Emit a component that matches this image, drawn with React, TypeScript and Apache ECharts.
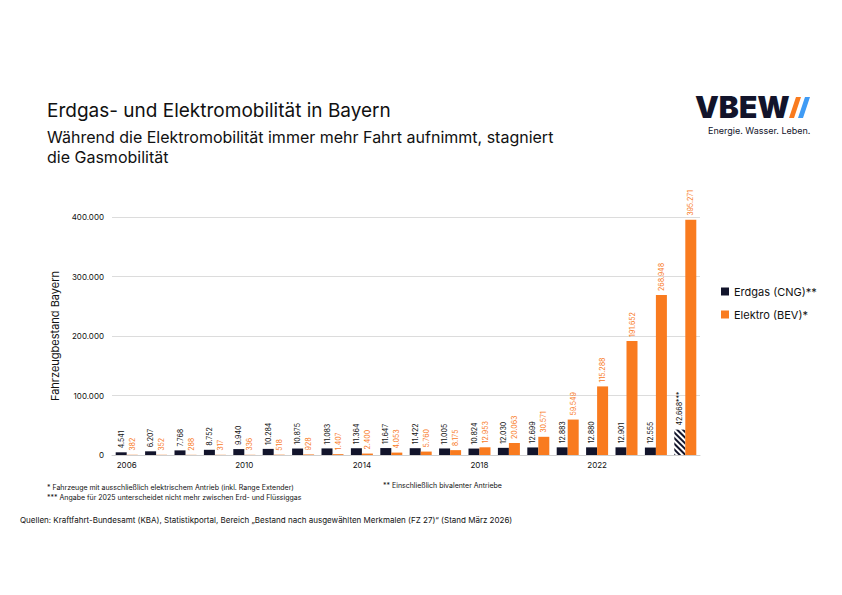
import React, { useEffect, useRef } from "react";
import * as echarts from "echarts";

const years = ["2006","2007","2008","2009","2010","2011","2012","2013","2014","2015","2016","2017","2018","2019","2020","2021","2022","2023","2024","2025"];
const erdgas = [4541,6207,7768,8752,9940,10284,10875,11083,11364,11647,11422,11005,10824,12030,12699,12883,12880,12901,12555,42668];
const elektro = [382,352,288,317,336,518,928,1407,2400,4053,5760,8175,12953,20063,30571,59549,115288,191652,268948,395271];
const yTicks = [0, 100000, 200000, 300000, 400000];

const fmt = (v: number) => String(v).replace(/\B(?=(\d{3})+(?!\d))/g, ".");
const NAVY = "#12142b";
const ORANGE = "#f97b1f";
const FONT = "Inter, 'Noto Sans', sans-serif";

export default function App() {
  const ref = useRef<HTMLDivElement>(null);
  useEffect(() => {
    const chart = echarts.init(ref.current!, null, { renderer: "svg" });
    const lbl = (color: string) => ({
      show: true, position: "top", rotate: 90, align: "left", verticalAlign: "middle",
      distance: 4, fontSize: 7, color, fontFamily: FONT,
    });
    chart.setOption({
      animation: false,
      textStyle: { fontFamily: FONT },
      grid: { left: 112, right: 142, top: 217, bottom: 140, containLabel: false },
      legend: {
        orient: "vertical", left: 716, top: 281, itemWidth: 8, itemHeight: 8, itemGap: 12,
        icon: "rect", textStyle: { fontSize: 11, color: "#111", fontFamily: FONT },
      },
      xAxis: {
        type: "category", data: years,
        axisLine: { lineStyle: { color: "#cfcfcf" } },
        axisTick: { show: false },
        axisLabel: { interval: 3, fontSize: 8, color: "#111", margin: 6 },
      },
      yAxis: {
        type: "value", min: 0, max: 400000, interval: 100000,
        axisLabel: { fontSize: 8, color: "#111", formatter: (v: number) => yTicks.includes(v) ? fmt(v) : "" },
        splitLine: { lineStyle: { color: "#dcdcdc" } },
        name: "Fahrzeugbestand Bayern", nameLocation: "middle", nameGap: 50,
        nameTextStyle: { fontSize: 11, color: "#111" },
      },
      series: [
        {
          name: "Erdgas (CNG)**", type: "bar", barWidth: 11, barGap: "0%",
          itemStyle: { color: NAVY },
          label: { ...lbl("#111"), formatter: (p: any) => p.dataIndex === erdgas.length - 1 ? fmt(p.value) + "***" : fmt(p.value) },
          data: erdgas.map((v, i) => i === erdgas.length - 1 ? {
            value: v,
            itemStyle: { color: "#ffffff", decal: { symbol: "rect", color: NAVY, dashArrayX: [1, 0], dashArrayY: [2, 2], rotation: Math.PI / 4, symbolSize: 1 } },
          } : v),
        },
        {
          name: "Elektro (BEV)*", type: "bar", barWidth: 11,
          itemStyle: { color: ORANGE },
          label: { ...lbl(ORANGE), formatter: (p: any) => fmt(p.value) },
          data: elektro,
        },
      ],
      graphic: [
        { type: "text", left: 47, top: 101, style: { text: "Erdgas- und Elektromobilität in Bayern", fontSize: 19, fill: "#111", fontFamily: FONT } },
        { type: "text", left: 47, top: 127, style: { text: "Während die Elektromobilität immer mehr Fahrt aufnimmt, stagniert\ndie Gasmobilität", fontSize: 16, lineHeight: 20, fill: "#111", fontFamily: FONT } },
        { type: "text", left: 695, top: 91, style: { text: "VBEW", fontSize: 30, lineHeight: 32, fontWeight: 900, fill: NAVY, fontFamily: FONT } },
        { type: "polygon", shape: { points: [[796, 97], [801, 97], [794, 118], [789, 118]] }, style: { fill: ORANGE } },
        { type: "polygon", shape: { points: [[805, 97], [810, 97], [803, 118], [798, 118]] }, style: { fill: "#3f9bf5" } },
        { type: "text", left: 708, top: 126, style: { text: "Energie. Wasser. Leben.", fontSize: 9, fill: NAVY, fontFamily: FONT } },
        { type: "text", left: 47, top: 482, style: { text: "* Fahrzeuge mit ausschließlich elektrischem Antrieb (inkl. Range Extender)\n*** Angabe für 2025 unterscheidet nicht mehr zwischen Erd- und Flüssiggas", fontSize: 7, lineHeight: 10, fill: "#111", fontFamily: FONT } },
        { type: "text", left: 383, top: 482, style: { text: "** Einschließlich bivalenter Antriebe", fontSize: 7, fill: "#111", fontFamily: FONT } },
        { type: "text", left: 20, top: 516, style: { text: "Quellen: Kraftfahrt-Bundesamt (KBA), Statistikportal, Bereich „Bestand nach ausgewählten Merkmalen (FZ 27)“ (Stand März 2026)", fontSize: 8, fill: "#111", fontFamily: FONT } },
      ],
    });
    return () => chart.dispose();
  }, []);
  return <div ref={ref} style={{ width: 842, height: 595, position: "absolute", left: 0, top: 0, background: "#fff" }} />;
}
